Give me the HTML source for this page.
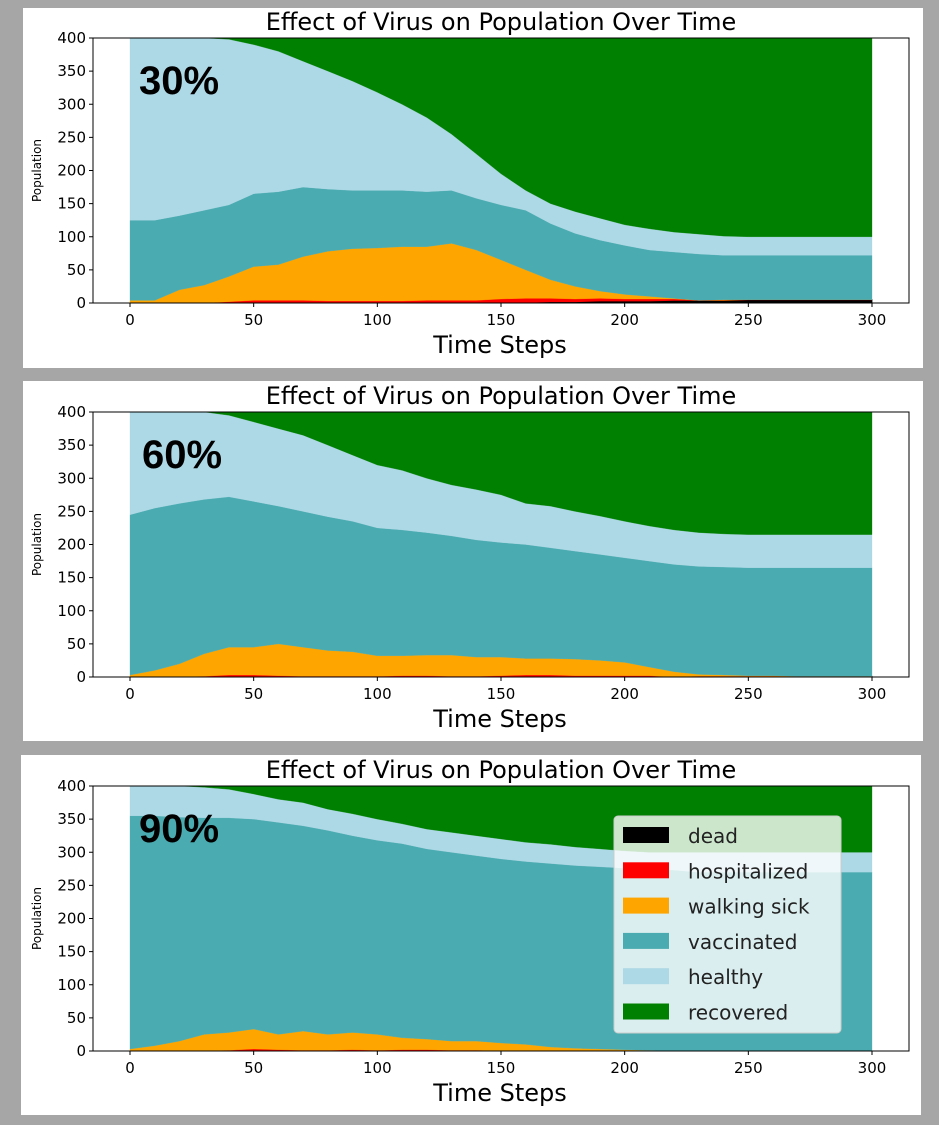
<!DOCTYPE html>
<html><head><meta charset="utf-8"><style>
body{margin:0;background:#a6a6a6;width:939px;height:1125px;overflow:hidden;font-family:"DejaVu Sans","Liberation Sans",sans-serif}
svg{position:absolute;left:0;top:0}
</style></head><body>
<svg id="c" width="939" height="1125" xmlns="http://www.w3.org/2000/svg"></svg>
<script>
const timeSteps=[0,10,20,30,40,50,60,70,80,90,100,110,120,130,140,150,160,170,180,190,200,210,220,230,240,250,260,270,280,290,300];
const seriesNames=["dead","hospitalized","walking sick","vaccinated","healthy","recovered"];
const seriesColors=["#000000","#ff0000","#ffa500","#4aabb0","#add8e6","#008000"];
const xTicks=[0,50,100,150,200,250,300];
const yTicks=[0,50,100,150,200,250,300,350,400];
const panelLabels=["30%","60%","90%"];
// panel 1 (30%)
const dead1=[0,0,0,0,0,0,0,0,0,0,0,0,0,0,0,1,1,2,2,3,3,3,4,4,4,5,5,5,5,5,5];
const hosp1=[0,0,0,0,2,4,4,4,3,3,3,3,4,4,4,5,6,5,4,4,3,3,2,0,0,0,0,0,0,0,0];
const sick1=[4,4,20,27,38,51,54,66,75,79,80,82,81,86,76,59,43,28,19,11,7,4,1,0,1,0,0,0,0,0,0];
const vacc1=[121,121,112,113,108,110,110,105,94,88,87,85,83,80,78,83,90,85,80,77,74,70,70,70,67,67,67,67,67,67,67];
const healthy1=[275,275,268,260,250,225,212,190,178,165,148,130,112,85,67,47,30,30,33,33,31,32,30,30,29,28,28,28,28,28,28];
const recovered1=[0,0,0,0,2,10,20,35,50,65,82,100,120,145,175,205,230,250,262,272,282,288,293,296,299,300,300,300,300,300,300];
// panel 2 (60%)
const dead2=[0,0,0,0,0,0,0,0,0,0,0,0,0,0,0,0,0,0,0,0,0,0,0,1,1,1,1,1,1,1,1];
const hosp2=[0,0,0,1,3,3,2,1,1,1,1,2,2,1,1,2,3,3,2,2,2,2,0,0,0,0,0,0,0,0,0];
const sick2=[3,10,20,34,42,42,48,44,39,37,31,30,31,32,29,28,25,25,25,23,20,13,8,3,2,1,1,0,0,0,0];
const vacc2=[242,245,242,233,227,220,208,205,202,197,193,190,185,180,177,173,172,167,163,160,158,160,162,163,163,163,163,164,164,164,164];
const healthy2=[155,145,138,132,123,120,117,115,108,100,95,90,82,77,76,72,62,63,60,58,55,53,52,51,50,50,50,50,50,50,50];
const recovered2=[0,0,0,0,5,15,25,35,50,65,80,88,100,110,117,125,138,142,150,157,165,172,178,182,184,185,185,185,185,185,185];
// panel 3 (90%)
const dead3=[0,0,0,0,0,0,0,0,0,0,0,0,0,0,0,0,0,0,0,0,0,0,0,0,0,0,0,0,0,0,0];
const hosp3=[0,0,0,0,1,3,2,1,1,2,1,2,2,1,1,0,0,0,0,0,0,0,0,0,0,0,0,0,0,0,0];
const sick3=[3,8,15,25,27,30,23,29,24,26,24,18,16,14,14,12,10,6,4,3,2,1,0,0,0,0,0,0,0,0,0];
const vacc3=[352,347,338,327,324,317,320,310,308,297,293,293,287,285,280,278,276,277,276,275,274,274,273,270,270,270,270,270,270,270,270];
const healthy3=[45,45,47,46,43,38,35,35,32,33,32,30,30,30,30,30,29,29,28,27,26,25,27,30,30,30,30,30,30,30,30];
const recovered3=[0,0,0,2,5,12,20,25,35,42,50,57,65,70,75,80,85,88,92,95,98,100,100,100,100,100,100,100,100,100,100];

const panels=[[dead1,hosp1,sick1,vacc1,healthy1,recovered1],[dead2,hosp2,sick2,vacc2,healthy2,recovered2],[dead3,hosp3,sick3,vacc3,healthy3,recovered3]];
const NS="http://www.w3.org/2000/svg";
const svg=document.getElementById("c");
function mk(tag,attrs,parent,text){const e=document.createElementNS(NS,tag);for(const k in attrs)e.setAttribute(k,attrs[k]);if(text!==undefined)e.textContent=text;(parent||svg).appendChild(e);return e;}
const boxTops=[8,381,755], boxLefts=[23,23,21];
const PL=93,PR=909,PH=265;
const xs=t=>130+(t/300)*(872-130);

panels.forEach((series,pi)=>{
  const bt=boxTops[pi], pt=bt+30+(pi==0?0:1), pb=pt+PH;
  const ys=v=>pb-(v/400)*PH;
  const g=mk("g",{});
  
  
  mk("rect",{x:boxLefts[pi],y:bt,width:900,height:360,fill:"#fff"},g);
  const base=timeSteps.map(()=>0);
  series.forEach((arr,si)=>{
    const lower=base.slice();
    const upper=base.map((b,i)=>b+arr[i]);
    let d="M"+xs(timeSteps[0])+","+ys(upper[0]);
    for(let i=1;i<timeSteps.length;i++)d+=" L"+xs(timeSteps[i]).toFixed(1)+","+ys(upper[i]).toFixed(1);
    for(let i=timeSteps.length-1;i>=0;i--)d+=" L"+xs(timeSteps[i]).toFixed(1)+","+ys(lower[i]).toFixed(1);
    const p=mk("path",{d:d+"Z",fill:seriesColors[si],stroke:seriesColors[si],"stroke-width":si<2?0.8:0.3},g);
    
    
    for(let i=0;i<base.length;i++)base[i]=upper[i];
  });
  mk("rect",{x:PL,y:pt,width:PR-PL,height:PH,fill:"none",stroke:"#000","stroke-width":1},g);
  yTicks.forEach(v=>{
    mk("line",{x1:PL-4,x2:PL,y1:ys(v),y2:ys(v),stroke:"#000"},g);
    const t=mk("text",{x:PL-7,y:ys(v)+5,"text-anchor":"end","font-size":15,fill:"#000"},g,String(v));
    
    
  });
  xTicks.forEach(v=>{
    mk("line",{x1:xs(v),x2:xs(v),y1:pb,y2:pb+4,stroke:"#000"},g);
    const t=mk("text",{x:xs(v),y:pb+22,"text-anchor":"middle","font-size":15,fill:"#000"},g,String(v));
    
    
  });
  const ti=mk("text",{x:501,y:pt-8,"text-anchor":"middle","font-size":24,fill:"#000"},g,"Effect of Virus on Population Over Time");
  
  
  const xl=mk("text",{x:500,y:pb+50,"text-anchor":"middle","font-size":24,fill:"#000"},g,"Time Steps");
  
  
  const yl=mk("text",{x:0,y:0,"text-anchor":"middle","font-size":12,fill:"#000",transform:"translate(41,"+(pt+PH/2)+") rotate(-90)"},g,"Population");
  
  
  const pl=mk("text",{x:pi==1?142:139,y:pt+56,"font-size":40,"font-weight":"bold","font-family":"Liberation Sans, sans-serif",fill:"#000"},g,panelLabels[pi]);
  
  
  if(pi==2){
    const lg=mk("g",{},g);
    
    
    mk("rect",{x:614,y:816,width:227,height:217,rx:4,fill:"#fff","fill-opacity":0.8,stroke:"#ccc"},lg);
    seriesNames.forEach((nm,si)=>{
      const cy=835+si*35.3;
      const e=mk("g",{},lg);
      
      
      mk("rect",{x:623,y:cy-8,width:46,height:16,fill:seriesColors[si]},e);
      mk("text",{x:688,y:cy+8,"font-size":20,fill:"#222"},e,nm);
    });
  }
});
</script>
</body></html>
